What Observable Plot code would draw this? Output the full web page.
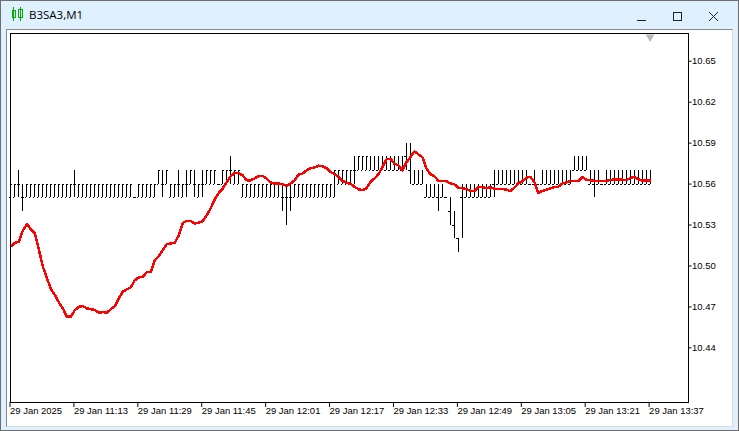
<!DOCTYPE html>
<html>
<head>
<meta charset="utf-8">
<script src="https://cdn.jsdelivr.net/npm/d3@7"></script>
<script src="https://cdn.jsdelivr.net/npm/@observablehq/plot@0.6"></script>
<style>
html,body{margin:0;padding:0;background:#fff}
#win{position:relative;width:737px;height:429px;border:1px solid #6e6e6e;background:#dff0ff;overflow:hidden}
#panel{position:absolute;left:5px;top:28px;width:725px;height:396px;background:#fff;border-left:1px solid #8a8a8a;border-top:1px solid #8a8a8a;border-right:1px solid #dcdcdc;border-bottom:1px solid #dcdcdc;box-sizing:content-box}
#title{position:absolute;left:28px;top:6px;font:11.5px "Open Sans",sans-serif;color:#000}
#chrome{position:absolute;left:0;top:0}
#chart{position:absolute;left:-1px;top:-1px}
#chart svg{background:transparent;display:block}
</style>
</head>
<body>
<div id="win">
  <svg id="chrome" width="737" height="29" shape-rendering="crispEdges">
    <g fill="none" stroke="#00b000">
      <path d="M12.500 6v14M11.500 9.500h3v7h-3z"/>
      <path d="M19.500 6v14M17.500 8.500h4v8h-4z"/>
    </g>
    <g fill="none" stroke="#222">
      <path d="M636 19.500h9"/>
      <rect x="672.500" y="11.500" width="8" height="8"/>
      <path d="M708 11l9 9M717 11l-9 9" shape-rendering="auto"/>
    </g>
  </svg>
  <div id="title">B3SA3,M1</div>
  <div id="panel"></div>
  <div id="chart"></div>
</div>
<script>
const titleText = "B3SA3,M1";
// bar prices, in hundredths above 10.00, one per minute
const highs = [
56,56,57,56,56,56,56,56,56,56, 56,56,56,56,56,56,57,56,56,56,
56,56,56,56,56,56,56,56,56,56, 56,55,56,56,56,56,56,57,57,57,
56,56,57,56,57,57,57,56,57,57, 57,57,56,57,57,58,57,57,56,56,
56,56,56,56,56,56,56,56,56,56, 56,56,56,56,56,56,56,56,56,56,
56,57,57,57,57,57,58,58,58,58, 58,58,58,58,58,58,58,58,58,59,
59,57,57,57,56,56,56,56,56,55, 55,54,52,56,56,56,56,56,56,56,
56,57,57,57,57,57,57,57,57,57, 56,57,56,57,57,57,57,57,57,57,
57,58,58,58,58,57,57,57,56,57, 57,57,57,57,57,57,57,57,57,57,
57];
const lows = [
55,55,55,54,55,55,55,55,55,55, 55,55,55,55,55,55,55,55,55,55,
55,55,55,55,55,55,55,55,55,55, 55,55,55,55,55,55,55,56,55,56,
55,55,55,55,55,56,55,55,55,56, 56,56,56,56,56,56,56,56,55,55,
55,55,55,55,55,55,55,55,54,53, 54,55,55,55,55,55,55,55,55,55,
55,55,56,56,56,56,56,57,57,57, 57,57,57,57,57,57,57,57,57,57,
56,56,56,56,55,55,55,54,55,55, 53,52,51,52,55,55,55,55,55,55,
55,55,56,56,56,56,56,56,56,56, 56,56,56,56,56,56,56,56,56,56,
56,57,57,57,57,56,55,56,56,56, 56,56,56,56,56,56,56,56,56,56,
56];
const opens = [
55,55,56,55,55,55,55,55,55,55, 55,55,55,55,55,55,56,55,55,55,
55,55,55,55,55,55,55,55,55,55, 55,55,55,55,55,55,55,56,56,56,
55,55,56,55,56,56,56,55,56,56, 56,56,56,56,56,57,56,56,55,55,
55,55,55,55,55,55,55,55,55,55, 55,55,55,55,55,55,55,55,55,55,
55,55,56,56,56,56,57,57,57,57, 57,57,57,57,57,57,57,57,57,58,
57,56,56,56,55,55,55,55,55,55, 54,53,52,55,55,55,55,55,55,55,
55,56,56,56,56,56,56,56,56,56, 56,56,56,56,56,56,56,56,56,56,
56,57,57,57,57,56,56,56,56,56, 56,56,56,56,56,56,56,56,56,56,
56];
const closes = [
56,56,56,55,56,56,56,56,56,56, 56,56,56,56,56,56,56,56,56,56,
56,56,56,56,56,56,56,56,56,56, 56,55,56,56,56,56,56,57,56,57,
56,56,56,56,56,57,56,56,56,57, 57,57,56,57,57,57,57,57,56,56,
56,56,56,56,56,56,56,56,55,55, 55,56,56,56,56,56,56,56,56,56,
56,57,57,57,57,57,57,58,58,58, 58,58,58,58,58,58,58,58,58,58,
57,57,57,57,56,56,56,55,56,55, 54,53,52,55,56,56,56,56,56,56,
56,56,57,57,57,57,57,57,57,57, 56,57,56,57,57,57,57,57,57,57,
57,58,58,58,58,57,56,57,56,57, 57,57,57,57,57,57,57,57,57,57,
57];
// red moving-average line, one value per minute
const maValues = [
10.5145,10.5169,10.5179,10.5262,10.5306,10.5267,10.5238,10.5116,10.4993,10.4909,
10.4830,10.4786,10.4733,10.4689,10.4628,10.4628,10.4677,10.4701,10.4706,10.4689,
10.4684,10.4677,10.4657,10.4662,10.4657,10.4684,10.4706,10.4762,10.4813,10.4828,
10.4843,10.4896,10.4916,10.4920,10.4955,10.4957,10.5042,10.5072,10.5116,10.5160,
10.5165,10.5169,10.5225,10.5315,10.5330,10.5330,10.5310,10.5318,10.5328,10.5372,
10.5423,10.5487,10.5535,10.5567,10.5615,10.5657,10.5681,10.5681,10.5664,10.5628,
10.5628,10.5642,10.5659,10.5659,10.5640,10.5611,10.5604,10.5604,10.5599,10.5586,
10.5604,10.5628,10.5670,10.5677,10.5701,10.5716,10.5721,10.5735,10.5730,10.5716,
10.5690,10.5672,10.5653,10.5624,10.5608,10.5602,10.5580,10.5562,10.5555,10.5569,
10.5615,10.5642,10.5672,10.5723,10.5781,10.5785,10.5749,10.5738,10.5701,10.5760,
10.5796,10.5840,10.5818,10.5796,10.5716,10.5672,10.5657,10.5623,10.5623,10.5621,
10.5604,10.5599,10.5574,10.5569,10.5564,10.5551,10.5550,10.5577,10.5579,10.5569,
10.5577,10.5566,10.5564,10.5564,10.5559,10.5548,10.5573,10.5606,10.5619,10.5648,
10.5652,10.5617,10.5535,10.5550,10.5559,10.5569,10.5577,10.5579,10.5604,10.5613,
10.5621,10.5621,10.5621,10.5652,10.5633,10.5628,10.5624,10.5623,10.5621,10.5621,
10.5630,10.5633,10.5635,10.5632,10.5628,10.5643,10.5652,10.5635,10.5626,10.5626,
10.5626];
const yTicks = [10.44,10.47,10.50,10.53,10.56,10.59,10.62,10.65];
const xTicks = [0,16,32,48,64,80,96,112,128,144,160];
const xLabels = ["29 Jan 2025","29 Jan 11:13","29 Jan 11:29","29 Jan 11:45","29 Jan 12:01","29 Jan 12:17","29 Jan 12:33","29 Jan 12:49","29 Jan 13:05","29 Jan 13:21","29 Jan 13:37"];
const shiftMarker = [160];

const px = 1/4; // one minute spans four pixels on this scale's range
const bars = highs.map((h,i)=>({i,high:10+h/100,low:10+lows[i]/100,open:10+opens[i]/100,close:10+closes[i]/100}));
const ma = maValues.map((v,i)=>({i,v}));
const font = '"Liberation Sans", sans-serif';

const chart = Plot.plot({
  width:739, height:431,
  marginLeft:10.5, marginRight:50.5, marginTop:33.5, marginBottom:28.5,
  style:{background:"transparent",fontFamily:font,fontSize:"9.5px",color:"#000"},
  x:{type:"linear",domain:[0,169.5]},
  y:{type:"linear",domain:[10.40,10.67]},
  marks:[
    Plot.ruleX(bars,{x:"i",y1:"low",y2:"high",stroke:"#000",strokeWidth:1,shapeRendering:"crispEdges"}),
    Plot.ruleY(bars,{y:"open",x1:d=>d.i-1.5*px,x2:d=>d.i,stroke:"#000",strokeWidth:1,shapeRendering:"crispEdges"}),
    Plot.ruleY(bars,{y:"close",x1:d=>d.i,x2:d=>d.i+1.5*px,stroke:"#000",strokeWidth:1,shapeRendering:"crispEdges"}),
    Plot.line(ma,{x:"i",y:"v",stroke:"#ff0000",strokeWidth:2.5,curve:"linear",strokeLinejoin:"round",shapeRendering:"crispEdges"}),
    Plot.dot(shiftMarker,{x:d=>d,frameAnchor:"top",symbol:"triangle",r:3.2,rotate:180,fill:"#b8b8b8",stroke:"none",dy:3}),
    Plot.frame({stroke:"#000",strokeWidth:1,shapeRendering:"crispEdges"}),
    Plot.axisY({anchor:"right",ticks:yTicks,tickSize:3,tickPadding:1,tickFormat:d3.format(".2f"),label:null,stroke:"#000",fill:"#000",fontSize:9.5}),
    Plot.axisX({anchor:"bottom",ticks:xTicks,tickSize:5,tickPadding:0,tickFormat:d=>xLabels[xTicks.indexOf(d)],label:null,textAnchor:"start",dx:-1,stroke:"#000",fill:"#000",fontSize:9.5})
  ]
});
document.getElementById("chart").appendChild(chart);
document.getElementById("title").textContent = titleText;
</script>
</body>
</html>
